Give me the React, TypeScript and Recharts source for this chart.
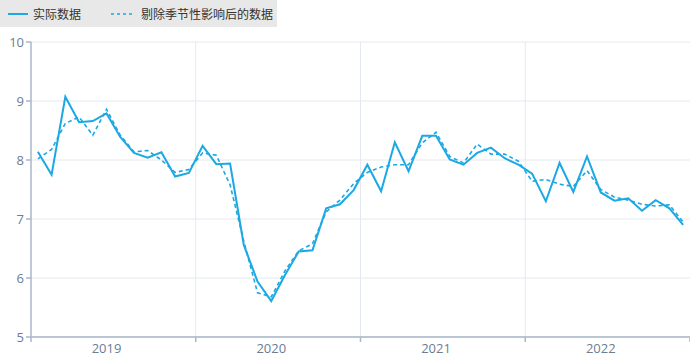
import React from "react";
import { LineChart, Line, XAxis, YAxis, CartesianGrid, ReferenceLine } from "recharts";

const years = ["2019", "2020", "2021", "2022"];

const actual = [
  8.14, 7.75, 9.07, 8.64, 8.66, 8.79, 8.39, 8.12, 8.04, 8.13, 7.72, 7.78,
  8.24, 7.93, 7.94, 6.56, 5.94, 5.61, 6.05, 6.45, 6.47, 7.18, 7.25, 7.49,
  7.92, 7.47, 8.30, 7.81, 8.41, 8.41, 8.01, 7.92, 8.12, 8.21, 8.03, 7.92,
  7.77, 7.30, 7.95, 7.46, 8.06, 7.45, 7.31, 7.35, 7.14, 7.32, 7.18, 6.90,
];

const adjusted = [
  8.02, 8.18, 8.62, 8.73, 8.42, 8.86, 8.42, 8.14, 8.16, 8.00, 7.79, 7.84,
  8.12, 8.08, 7.58, 6.62, 5.75, 5.68, 6.12, 6.46, 6.58, 7.12, 7.32, 7.60,
  7.79, 7.88, 7.92, 7.92, 8.29, 8.47, 8.06, 7.95, 8.27, 8.10, 8.10, 7.98,
  7.64, 7.67, 7.59, 7.55, 7.82, 7.50, 7.37, 7.32, 7.25, 7.22, 7.24, 6.95,
];

const yTicks = [5, 6, 7, 8, 9, 10];
const seriesNames = ["实际数据", "剔除季节性影响后的数据"];

const COLOR = "#1ba8e4";
const AXIS = "#a9b7ca";
const GRID = "#e4e9f0";
const LABEL = "#6b7d94";
const FONT = "'Open Sans', 'Noto Sans CJK SC', sans-serif";

const data = actual.map((v, i) => ({ x: i + 0.5, actual: v, adjusted: adjusted[i] }));

const boundaries = years.map((_, k) => k * 12).concat([years.length * 12]);
const labelPos = years.map((_, k) => k * 12 + 5.5);
const xTicks = [...boundaries, ...labelPos].sort((a, b) => a - b);

const XTick = (props: any) => {
  const { x, y, payload } = props;
  const v = payload.value as number;
  if (v % 12 === 0) {
    return <line x1={x} x2={x} y1={y - 8} y2={y - 3} stroke={AXIS} strokeWidth={1.5} />;
  }
  const idx = Math.round((v - 5.5) / 12);
  return (
    <text x={x} y={y + 8} textAnchor="middle" fill={LABEL} fontSize={13} fontFamily={FONT}>
      {years[idx]}
    </text>
  );
};

export default function App() {
  return (
    <div style={{ position: "absolute", left: 0, top: 0, width: 690, height: 357, background: "#fff" }}>
      <LineChart
        width={690}
        height={357}
        data={data}
        margin={{ top: 42, right: 0, bottom: 0, left: 0 }}
      >
        <CartesianGrid vertical={false} stroke={GRID} strokeWidth={1} />
        {boundaries.slice(1, -1).map((b) => (
          <ReferenceLine key={b} x={b} stroke={GRID} strokeWidth={1} />
        ))}
        <XAxis
          dataKey="x"
          type="number"
          domain={[0, 48]}
          ticks={xTicks}
          interval={0}
          tick={<XTick />}
          tickLine={false}
          axisLine={{ stroke: AXIS, strokeWidth: 1.5 }}
          height={20}
        />
        <YAxis
          domain={[5, 10]}
          ticks={yTicks}
          interval={0}
          width={31}
          axisLine={{ stroke: AXIS, strokeWidth: 1.5 }}
          tickLine={{ stroke: AXIS, strokeWidth: 1.5 }}
          tickSize={5}
          tick={{ fill: LABEL, fontSize: 13, fontFamily: FONT }}
        />
        <Line
          type="linear"
          dataKey="adjusted"
          name={seriesNames[1]}
          stroke={COLOR}
          strokeWidth={1.6}
          strokeDasharray="4 3"
          dot={false}
          isAnimationActive={false}
        />
        <Line
          type="linear"
          dataKey="actual"
          name={seriesNames[0]}
          stroke={COLOR}
          strokeWidth={2}
          dot={false}
          isAnimationActive={false}
        />
      </LineChart>
      <div
        style={{
          position: "absolute",
          left: 0,
          top: 0,
          width: 277,
          height: 27,
          background: "#e8e8e8",
          fontFamily: FONT,
          fontSize: 12,
          color: "#333",
          display: "flex",
          alignItems: "center",
        }}
      >
        <svg width={20} height={4} style={{ marginLeft: 8 }}>
          <line x1={0} x2={20} y1={2} y2={2} stroke={COLOR} strokeWidth={2} />
        </svg>
        <span style={{ marginLeft: 5 }}>{seriesNames[0]}</span>
        <svg width={22} height={4} style={{ marginLeft: 30 }}>
          <line x1={0} x2={22} y1={2} y2={2} stroke={COLOR} strokeWidth={1.6} strokeDasharray="3 3" />
        </svg>
        <span style={{ marginLeft: 8 }}>{seriesNames[1]}</span>
      </div>
    </div>
  );
}
